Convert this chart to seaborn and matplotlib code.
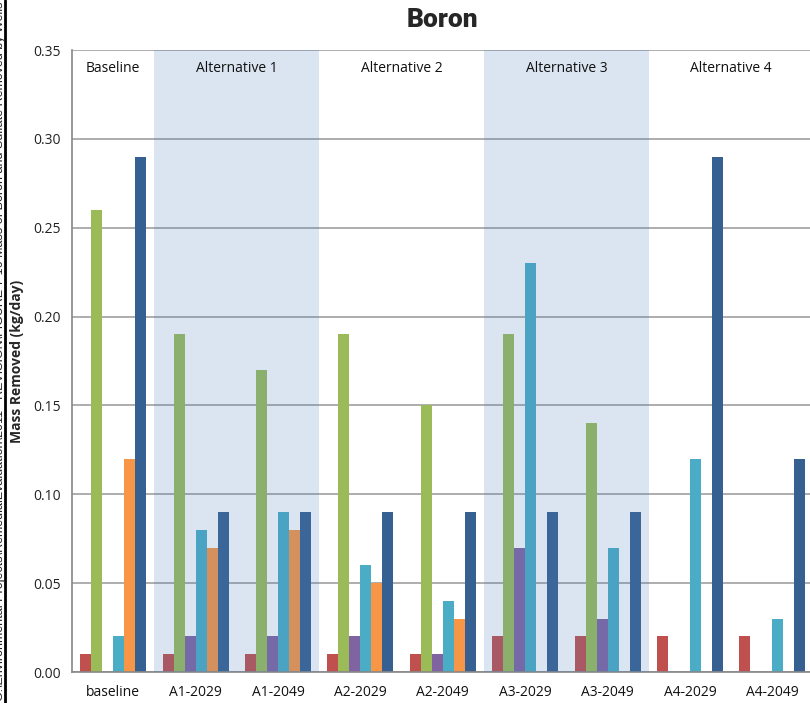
import matplotlib
matplotlib.use("Agg")
import matplotlib.pyplot as plt
import seaborn as sns
import pandas as pd
import numpy as np
from matplotlib.ticker import FixedLocator, MultipleLocator

categories = ["baseline", "A1-2029", "A1-2049", "A2-2029", "A2-2049",
              "A3-2029", "A3-2049", "A4-2029", "A4-2049"]
series_names = ["Well 1", "Well 2", "Well 3", "Well 4", "Well 5", "Well 6"]
s1 = [0.01, 0.01, 0.01, 0.01, 0.01, 0.02, 0.02, 0.02, 0.02]
s2 = [0.26, 0.19, 0.17, 0.19, 0.15, 0.19, 0.14, 0.0, 0.0]
s3 = [0.0, 0.02, 0.02, 0.02, 0.01, 0.07, 0.03, 0.0, 0.0]
s4 = [0.02, 0.08, 0.09, 0.06, 0.04, 0.23, 0.07, 0.12, 0.03]
s5 = [0.12, 0.07, 0.08, 0.05, 0.03, 0.0, 0.0, 0.0, 0.0]
s6 = [0.29, 0.09, 0.09, 0.09, 0.09, 0.09, 0.09, 0.29, 0.12]
group_labels = ["Baseline", "Alternative 1", "Alternative 2", "Alternative 3", "Alternative 4"]
group_spans = [(0, 0), (1, 2), (3, 4), (5, 6), (7, 8)]
shaded_groups = [1, 3]
colors = ["#C0504D", "#9BBB59", "#8064A2", "#4BACC6", "#F79646", "#376092"]

rows = []
for name, vals in zip(series_names, [s1, s2, s3, s4, s5, s6]):
    for c, v in zip(categories, vals):
        rows.append({"cat": c, "series": name, "val": v})
df = pd.DataFrame(rows)

sns.set_style("white")
plt.rcParams['font.family'] = ['Open Sans', 'DejaVu Sans']

fig = plt.figure(figsize=(8.1, 7.03), dpi=100)
ax = fig.add_axes([72/810, 31/703, (813.6-72)/810, (672-50)/703])

sns.barplot(data=df, x="cat", y="val", hue="series", order=categories,
            hue_order=series_names, palette=colors, width=0.8, ax=ax,
            legend=False, saturation=1, linewidth=0, edgecolor="none", zorder=2)

ax.set_ylim(0, 0.35)
ax.set_xlim(-0.5, len(categories) - 0.5)
ax.yaxis.set_major_locator(MultipleLocator(0.05))
ax.set_yticklabels([f"{t:.2f}" for t in ax.get_yticks()])
ax.grid(axis="y", color="#A0A0A0", linewidth=1.2, zorder=0)
ax.set_axisbelow(True)

for s in ["top", "right"]:
    ax.spines[s].set_visible(False)
for s in ["left", "bottom"]:
    ax.spines[s].set_color("#888888")
    ax.spines[s].set_linewidth(1.2)

ax.tick_params(axis="x", which="major", length=0, labelsize=10, pad=9, colors="#111111")
ax.xaxis.set_minor_locator(FixedLocator(np.arange(-0.5, len(categories), 1.0)))
ax.tick_params(axis="x", which="minor", length=5, width=1, color="#888888")
ax.tick_params(axis="y", length=5, width=1, color="#888888", labelsize=10, labelcolor="#222222", pad=3)

# shaded overlays (drawn over bars, tinting them)
for gi in shaded_groups:
    a, b = group_spans[gi]
    ax.axvspan(a - 0.5, b + 0.5, color="#4F81BD", alpha=0.2, linewidth=0, zorder=3)

for lab, (a, b) in zip(group_labels, group_spans):
    ax.text((a + b) / 2, 0.3395, lab, ha="center", va="center", fontsize=10, color="#111111", zorder=4)

ax.set_xlabel("")
ax.set_ylabel("Mass Removed (kg/day)", fontsize=10, fontweight="bold")
ax.yaxis.set_label_coords(-0.0647, 0.5)

fig.text((72 + 813.6) / 2 / 810, 1 - 20/703, "Boron", ha="center", va="center",
         fontsize=19, fontweight="heavy", family=["Roboto", "DejaVu Sans"], fontstretch="condensed")

# clipped margin annotation at left edge
fig.text(0.5/810, 0.5, "G:\\Environmental Projects\\RemedialEvaluation\\2011 - REVISION\\FIGURE 7-16 Mass of Boron and Sulfate Removed by Wells",
         rotation=90, ha="center", va="center", fontsize=9, color="#222222",
         family=["Liberation Sans", "DejaVu Sans"])
fig.add_artist(plt.Line2D([5/810, 5/810], [0, 1], transform=fig.transFigure, color="black", linewidth=2))

fig.savefig("out.png", dpi=100)
